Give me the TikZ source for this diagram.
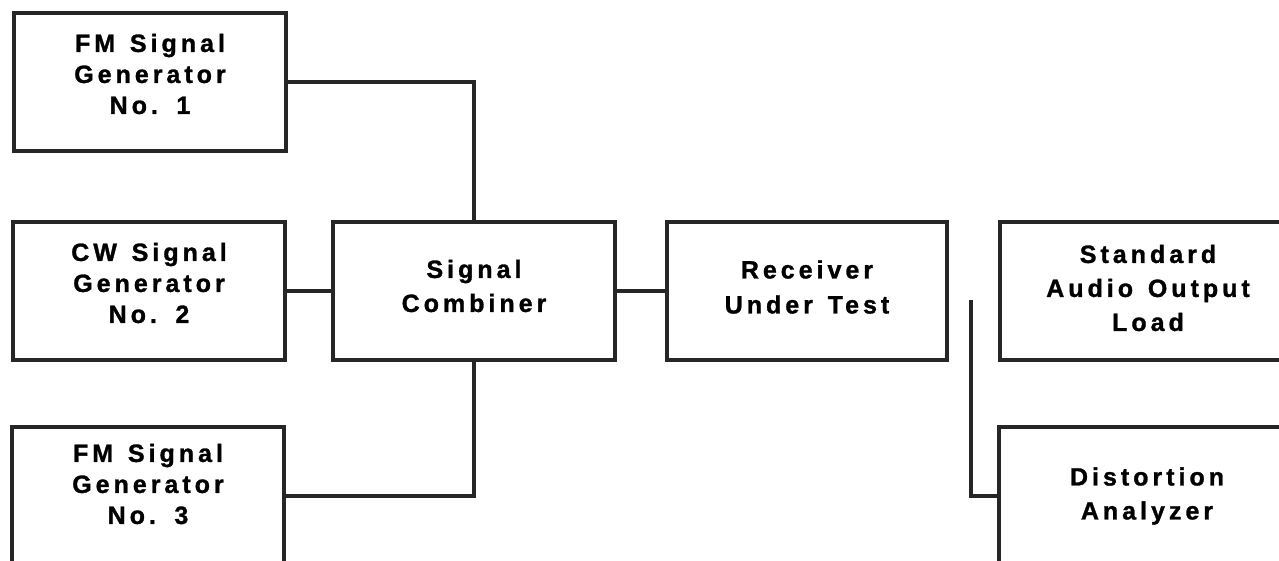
\documentclass[tikz,border=0pt]{standalone}
\usepackage{fontspec}
\setmainfont{Liberation Sans}[LetterSpace=16, WordSpace=1.35, BoldFeatures={FakeBold=1.2}]
\begin{document}
\begin{tikzpicture}[x=1pt,y=-1pt,
  blk/.style={draw=black!85, line width=3.6pt, rectangle, inner sep=0pt,
    minimum width=#1, minimum height=138pt},
  blk/.default=272pt,
  lbl/.style={inner sep=0pt, align=center,
    font=\fontsize{25}{#1}\selectfont\bfseries},
  lbl/.default=31,
  wire/.style={draw=black!85, line width=3.4pt}]
\useasboundingbox (0,0) rectangle (1279,560);
\clip (0,0) rectangle (1279,560);

% signal sources
\node[blk] (fm1) at (150,82)  {};
\node[blk] (cw)  at (149,291) {};
\node[blk] (fm3) at (148,496) {};
\node[lbl] (fm1t) at ([yshift=8pt]fm1.center) {FM Signal\\Generator\\No. 1};
\node[lbl] (cwt)  at ([yshift=8pt]cw.center)  {CW Signal\\Generator\\No. 2};
\node[lbl] (fm3t) at ([yshift=12pt]fm3.center) {FM Signal\\Generator\\No. 3};

% combiner and receiver
\node[blk=282pt] (comb) at (474,291) {};
\node[blk=280pt] (rx)   at (807,291) {};
\node[lbl=34] (combt) at ([yshift=5pt]comb.center) {Signal\\Combiner};
\node[lbl=35] (rxt)   at ([yshift=4pt]rx.center)   {Receiver\\Under Test};

% output side (boxes run past the right edge)
\node[blk=296pt] (load) at (1148,291) {};
\node[blk=296pt] (dist) at (1147,496) {};
\node[lbl=34] (loadt) at ([yshift=3pt]load.center) {Standard\\Audio Output\\Load};
\node[lbl=34] (distt) at (dist.center) {Distortion\\Analyzer};

% connections
\draw[wire] (fm1.east) -- (fm1.east -| comb.north) -- (comb.north);
\draw[wire] (cw.east) -- (comb.west);
\draw[wire] (fm3.east) -- (fm3.east -| comb.south) -- (comb.south);
\draw[wire] (comb.east) -- (rx.west);

\coordinate (tap) at (971,300);
\draw[wire] (tap) -- (tap |- dist.west) -- (dist.west);
\end{tikzpicture}
\end{document}
